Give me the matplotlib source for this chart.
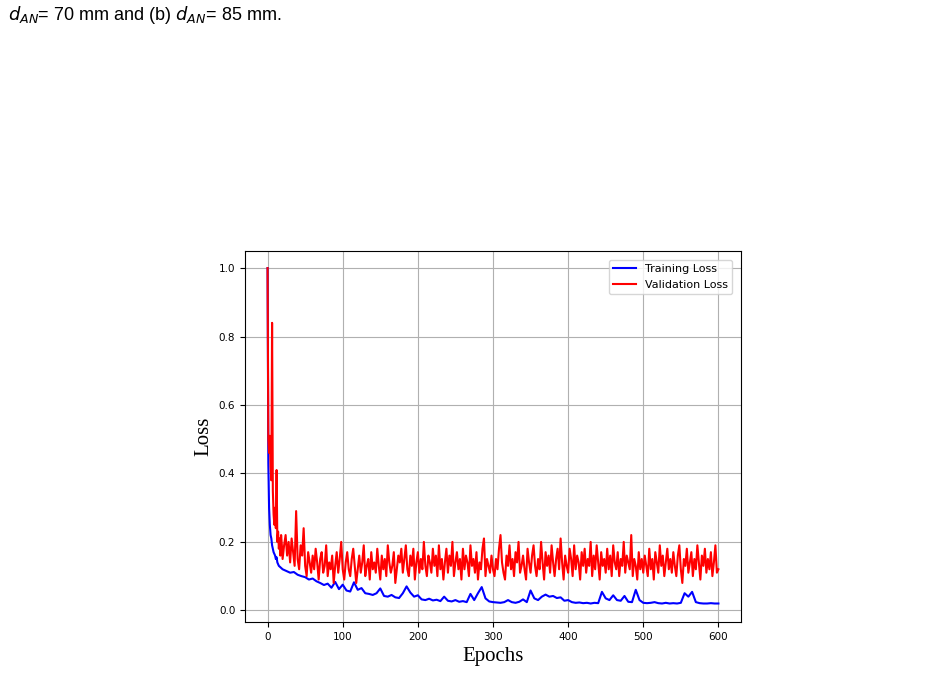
import matplotlib
matplotlib.use("Agg")
import matplotlib.pyplot as plt

# ---- data ----
val_epochs = list(range(0, 21)) + list(range(22, 601, 2))
val_loss = [
    1.00, 0.50, 0.46, 0.51, 0.42, 0.38, 0.84, 0.35, 0.28, 0.25, 0.30,
    0.24, 0.41, 0.20, 0.23, 0.18, 0.21, 0.16, 0.22, 0.19, 0.15,
    # 22-60
    0.19, 0.22, 0.16, 0.20, 0.14, 0.21, 0.17, 0.13, 0.29, 0.15, 0.12, 0.19, 0.16, 0.24, 0.13, 0.10, 0.17, 0.14, 0.11, 0.16,
    # 62-100
    0.12, 0.18, 0.14, 0.09, 0.15, 0.17, 0.11, 0.13, 0.19, 0.10, 0.14, 0.12, 0.16, 0.08, 0.13, 0.17, 0.11, 0.15, 0.20, 0.12,
    # 102-140
    0.09, 0.14, 0.17, 0.12, 0.10, 0.15, 0.18, 0.13, 0.08, 0.12, 0.16, 0.11, 0.14, 0.19, 0.10, 0.13, 0.15, 0.09, 0.17, 0.12,
    # 142-180
    0.14, 0.11, 0.18, 0.13, 0.09, 0.16, 0.12, 0.15, 0.10, 0.19, 0.14, 0.11, 0.13, 0.17, 0.08, 0.12, 0.16, 0.14, 0.18, 0.11,
    # 182-220
    0.15, 0.19, 0.12, 0.10, 0.16, 0.13, 0.18, 0.09, 0.14, 0.17, 0.11, 0.15, 0.12, 0.20, 0.13, 0.10, 0.16, 0.14, 0.11, 0.18,
    # 222-260
    0.13, 0.16, 0.10, 0.19, 0.12, 0.15, 0.09, 0.14, 0.18, 0.11, 0.16, 0.13, 0.20, 0.10, 0.14, 0.17, 0.12, 0.15, 0.09, 0.18,
    # 262-300
    0.12, 0.16, 0.14, 0.10, 0.19, 0.13, 0.15, 0.11, 0.17, 0.09, 0.14, 0.12, 0.18, 0.21, 0.10, 0.15, 0.13, 0.11, 0.16, 0.12,
    # 302-340
    0.10, 0.15, 0.12, 0.18, 0.22, 0.14, 0.11, 0.09, 0.16, 0.13, 0.19, 0.12, 0.15, 0.10, 0.17, 0.14, 0.20, 0.11, 0.13, 0.16,
    # 342-380
    0.12, 0.09, 0.18, 0.14, 0.11, 0.16, 0.19, 0.13, 0.10, 0.15, 0.12, 0.20, 0.14, 0.09, 0.17, 0.13, 0.16, 0.11, 0.19, 0.14,
    # 382-420
    0.10, 0.15, 0.18, 0.12, 0.21, 0.14, 0.09, 0.16, 0.13, 0.11, 0.18, 0.15, 0.10, 0.19, 0.12, 0.16, 0.14, 0.09, 0.17, 0.13,
    # 422-460
    0.18, 0.11, 0.15, 0.13, 0.20, 0.10, 0.16, 0.12, 0.19, 0.14, 0.09, 0.17, 0.13, 0.15, 0.11, 0.18, 0.12, 0.16, 0.10, 0.19,
    # 462-500
    0.14, 0.12, 0.17, 0.10, 0.15, 0.13, 0.20, 0.11, 0.16, 0.14, 0.12, 0.22, 0.10, 0.15, 0.13, 0.09, 0.17, 0.12, 0.15, 0.11,
    # 502-540
    0.16, 0.13, 0.10, 0.18, 0.12, 0.15, 0.09, 0.17, 0.14, 0.11, 0.19, 0.13, 0.16, 0.10, 0.14, 0.18, 0.12, 0.15, 0.11, 0.17,
    # 542-580
    0.13, 0.10, 0.16, 0.19, 0.12, 0.08, 0.15, 0.13, 0.18, 0.11, 0.14, 0.17, 0.10, 0.15, 0.12, 0.19, 0.14, 0.09, 0.16, 0.13,
    # 582-600
    0.18, 0.11, 0.15, 0.12, 0.17, 0.10, 0.14, 0.19, 0.11, 0.12,
]

train_epochs = list(range(0, 15)) + list(range(15, 601, 5))
train_loss = [
    1.00, 0.43, 0.30, 0.25, 0.22, 0.21, 0.19, 0.18, 0.17, 0.165, 0.16, 0.15, 0.155, 0.14, 0.135,
    # 15-100
    0.13, 0.12, 0.115, 0.11, 0.112, 0.104, 0.10, 0.097, 0.09, 0.093, 0.085, 0.08, 0.074, 0.078, 0.066, 0.083, 0.062, 0.075,
    # 105-200
    0.058, 0.055, 0.082, 0.060, 0.065, 0.050, 0.048, 0.045, 0.050, 0.064, 0.042, 0.040, 0.045, 0.038, 0.036, 0.050, 0.070, 0.052, 0.040, 0.044,
    # 205-300
    0.032, 0.030, 0.034, 0.029, 0.031, 0.027, 0.040, 0.028, 0.026, 0.030, 0.025, 0.027, 0.024, 0.048, 0.030, 0.050, 0.068, 0.035, 0.026, 0.024,
    # 305-400
    0.023, 0.022, 0.024, 0.030, 0.024, 0.022, 0.025, 0.032, 0.024, 0.058, 0.035, 0.030, 0.040, 0.046, 0.040, 0.042, 0.036, 0.038, 0.028, 0.030,
    # 405-500
    0.024, 0.022, 0.023, 0.021, 0.022, 0.020, 0.022, 0.021, 0.054, 0.035, 0.030, 0.044, 0.030, 0.028, 0.042, 0.025, 0.024, 0.060, 0.030, 0.022,
    # 505-600
    0.021, 0.022, 0.024, 0.021, 0.020, 0.022, 0.020, 0.021, 0.020, 0.022, 0.050, 0.040, 0.054, 0.024, 0.021, 0.020, 0.020, 0.021, 0.020, 0.020,
]

caption = r"$d_{AN}$= 70 mm and (b) $d_{AN}$= 85 mm."

# ---- figure ----
fig = plt.figure(figsize=(9.41, 6.82), dpi=100)
ax = fig.add_axes([0.2604, 0.088, 0.527, 0.544])

ax.plot(train_epochs, train_loss, color="blue", lw=1.5, label="Training Loss")
ax.plot(val_epochs, val_loss, color="red", lw=1.5, label="Validation Loss")

ax.set_xlim(-30, 630)
ax.set_ylim(-0.034, 1.05)
ax.set_xticks([0, 100, 200, 300, 400, 500, 600])
ax.set_yticks([0.0, 0.2, 0.4, 0.6, 0.8, 1.0])
ax.tick_params(labelsize=7.5)
ax.grid(True, color="#b0b0b0", lw=0.8)

ax.set_xlabel("Epochs", family="Liberation Serif", fontsize=15)
ax.set_ylabel("Loss", family="Liberation Serif", fontsize=15)

ax.legend(loc="upper right", fontsize=8, borderaxespad=0.8)

fig.text(0.008, 0.978, caption, fontsize=13, ha="left", va="center",
         family="Liberation Sans")

fig.savefig("out.png", dpi=100)
